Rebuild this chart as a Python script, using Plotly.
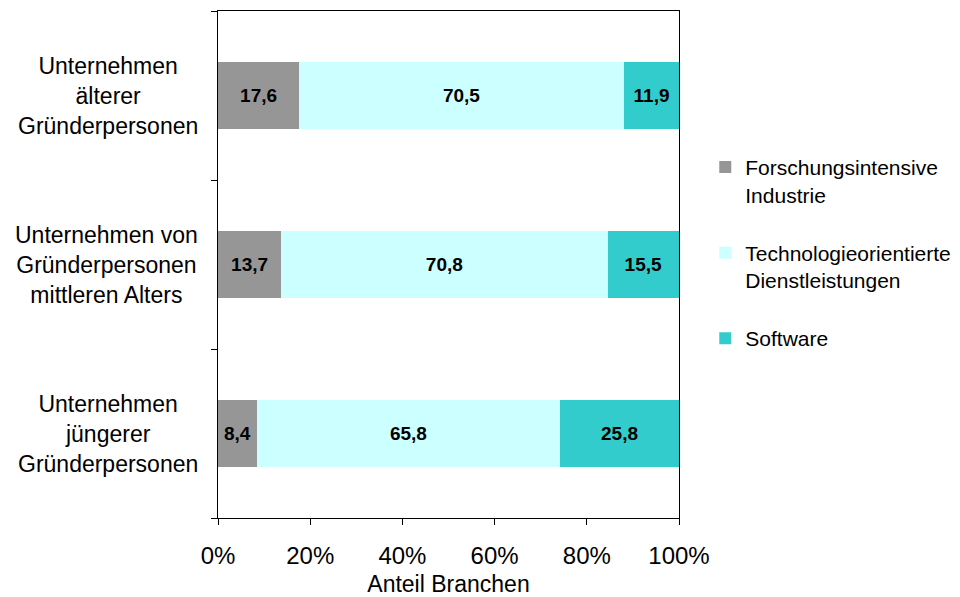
import plotly.graph_objects as go

# Categories listed bottom-to-top (Plotly draws the first category at the bottom)
categories = ["jung", "mittel", "alt"]
category_labels = [
    "Unternehmen<br>jüngerer<br>Gründerpersonen",
    "Unternehmen von<br>Gründerpersonen<br>mittleren Alters",
    "Unternehmen<br>älterer<br>Gründerpersonen",
]

series_names = [
    "Forschungsintensive<br>Industrie",
    "Technologieorientierte<br>Dienstleistungen",
    "Software",
]
forschung = [8.4, 13.7, 17.6]
technologie = [65.8, 70.8, 70.5]
software = [25.8, 15.5, 11.9]
series_values = [forschung, technologie, software]
series_colors = ["#969696", "#CCFFFF", "#33CCCC"]

x_tickvals = [0, 20, 40, 60, 80, 100]
x_ticktext = ["0%", "20%", "40%", "60%", "80%", "100%"]

FONT = "Liberation Sans, Arial"

fig = go.Figure()
for i, (name, vals, col) in enumerate(zip(series_names, series_values, series_colors)):
    fig.add_trace(go.Bar(
        y=categories,
        x=vals,
        name=name,
        orientation="h",
        marker=dict(color=col, line=dict(width=0)),
        texttemplate="%{x:.1f}",
        textposition="inside",
        insidetextanchor="middle",
        textangle=0,
        textfont=dict(family=FONT, size=19, color="black", weight="bold"),
        legendgroup=f"g{i}",
        hoverinfo="skip",
    ))

# Centered multi-line category labels to the left of the axis
for cat, lab in zip(categories, category_labels):
    fig.add_annotation(
        x=-0.039, xref="paper", xanchor="right",
        y=cat, yref="y", yanchor="middle",
        text=lab, showarrow=False, align="center",
        font=dict(family=FONT, size=23, color="black"),
    )

fig.update_layout(
    barmode="stack",
    bargap=0.6,
    separators=",.",
    width=960, height=597,
    margin=dict(l=218, r=281, t=11, b=79, autoexpand=False),
    paper_bgcolor="white",
    plot_bgcolor="white",
    font=dict(family=FONT, color="black"),
    showlegend=True,
    legend=dict(
        x=1.057, xanchor="left",
        y=0.732, yanchor="top",
        traceorder="grouped",
        tracegroupgap=28,
        valign="top",
        font=dict(family=FONT, size=21, color="black"),
        bgcolor="rgba(0,0,0,0)",
    ),
    xaxis=dict(
        range=[0, 100],
        tickmode="array",
        tickvals=x_tickvals,
        ticktext=x_ticktext,
        ticks="outside", ticklen=6, tickcolor="black", tickwidth=1,
        ticklabelstandoff=10,
        showline=True, linecolor="black", linewidth=1, mirror=True,
        showgrid=False, zeroline=False,
        tickfont=dict(size=24, color="black"),
        title=dict(text="Anteil Branchen", font=dict(size=23, color="black"), standoff=10),
    ),
    yaxis=dict(
        type="category",
        categoryorder="array", categoryarray=categories,
        range=[-0.5, 2.5],
        showticklabels=False,
        ticks="outside", ticklen=6, tickcolor="black", tickwidth=1,
        tickson="boundaries",
        showline=True, linecolor="black", linewidth=1, mirror=True,
        showgrid=False, zeroline=False,
    ),
)

fig.write_html("out.html")
